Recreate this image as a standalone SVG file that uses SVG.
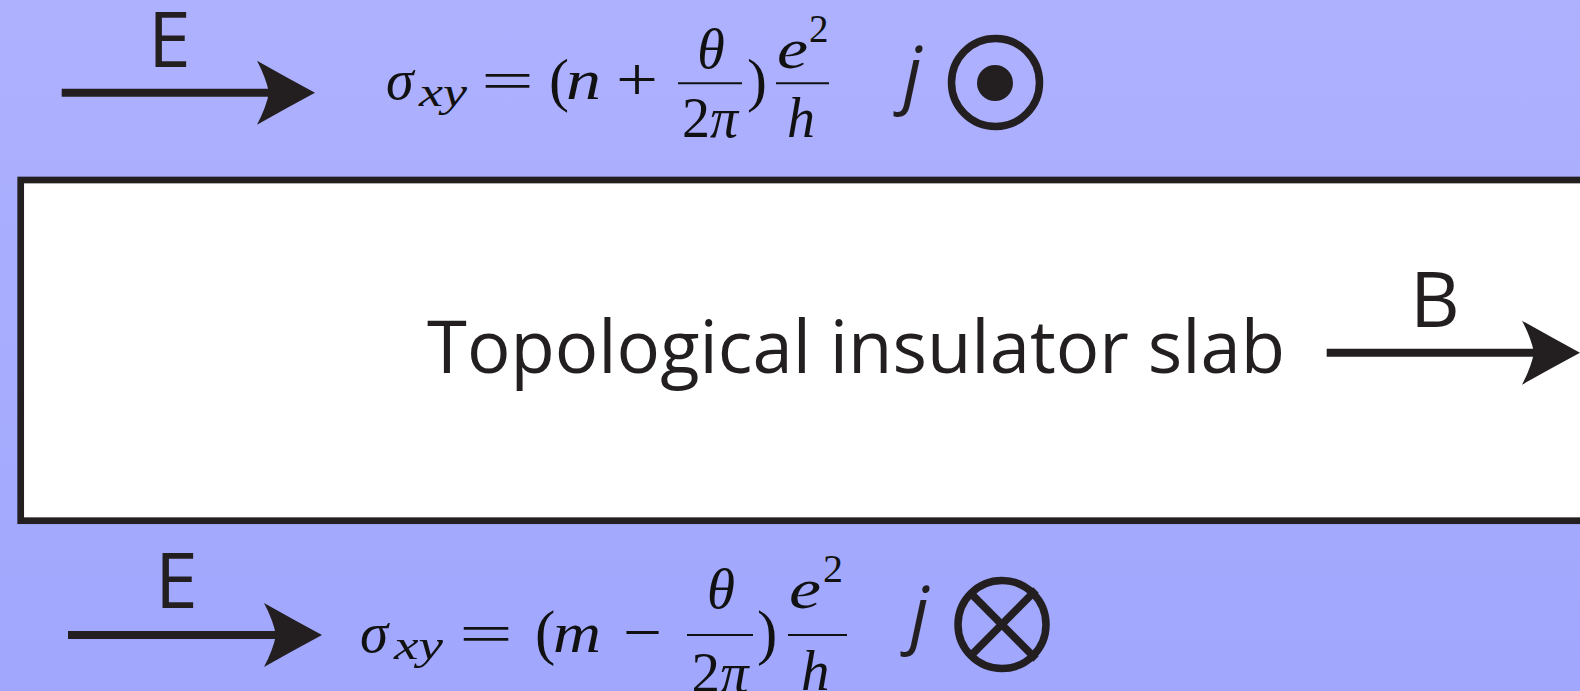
<svg xmlns="http://www.w3.org/2000/svg" width="1580" height="691" viewBox="0 0 1580 691">
  <defs>
    <linearGradient id="bg" x1="0" y1="0" x2="0" y2="1">
      <stop offset="0" stop-color="#aeb1fe"/>
      <stop offset="1" stop-color="#a0a7fd"/>
    </linearGradient>
    <marker id="head" markerUnits="userSpaceOnUse" viewBox="-15 -34 63 68" markerWidth="63" markerHeight="68" refX="0" refY="0" orient="auto" overflow="visible">
      <path d="M46,0 Q18,-15 -12,-32 Q-3,-15 0,0 Q-3,15 -12,32 Q18,15 46,0 Z" fill="#231f20"/>
    </marker>
    <style>
      .lbl { font-family: "Open Sans", "Liberation Sans", sans-serif; fill: #231f20; }
      .mi { font-family: "Liberation Serif", "DejaVu Serif", serif; font-style: italic; fill: #111; }
      .mr { font-family: "Liberation Serif", "DejaVu Serif", serif; font-style: normal; fill: #111; }
      .arrow { stroke: #231f20; stroke-width: 8; fill: none; marker-end: url(#head); }
      .rule { stroke: #111; stroke-width: 2; }
      .sym { stroke: #231f20; fill: none; stroke-width: 7.5; }
    </style>
  </defs>

  <rect x="0" y="0" width="1580" height="691" fill="url(#bg)"/>

  <g id="slab">
    <rect x="20.7" y="180" width="1575" height="340.7" fill="#ffffff" stroke="#231f20" stroke-width="6.7"/>
    <text class="lbl" x="427" y="373" font-size="74" textLength="858" lengthAdjust="spacingAndGlyphs">Topological insulator slab</text>
  </g>

  <g id="connectors">
    <line class="arrow" x1="61.7" y1="92.7" x2="269" y2="92.7"/>
    <line class="arrow" x1="68" y1="635" x2="276" y2="635"/>
    <line class="arrow" x1="1326.7" y1="352.7" x2="1534" y2="352.7"/>
  </g>

  <g id="label-E-top">
    <text class="lbl" x="148" y="66.7" font-size="77">E</text>
  </g>
  <g id="label-E-bottom">
    <text class="lbl" x="155" y="608" font-size="77">E</text>
  </g>
  <g id="label-B">
    <text class="lbl" x="1410" y="326.7" font-size="77">B</text>
  </g>

  <g id="formula-top">
    <text class="mi" x="386" y="99" font-size="56">σ</text>
    <text class="mi" x="419" y="106" font-size="42" textLength="48" lengthAdjust="spacingAndGlyphs">xy</text>
    <text class="mr" x="481" y="99" font-size="54" textLength="53" lengthAdjust="spacingAndGlyphs">=</text>
    <text class="mr" x="549" y="100" font-size="60">(</text>
    <text class="mi" x="566" y="99" font-size="56" textLength="35" lengthAdjust="spacingAndGlyphs">n</text>
    <text class="mr" x="616" y="100" font-size="62" textLength="42" lengthAdjust="spacingAndGlyphs">+</text>
    <line class="rule" x1="678" y1="83.3" x2="742" y2="83.3"/>
    <text class="mi" x="711" y="68" font-size="56" text-anchor="middle">θ</text>
    <text class="mr" x="710" y="137" font-size="56" text-anchor="middle">2<tspan class="mi">π</tspan></text>
    <text class="mr" x="747" y="100" font-size="60">)</text>
    <line class="rule" x1="776" y1="83.3" x2="829" y2="83.3"/>
    <text class="mi" x="777" y="68" font-size="56" textLength="31" lengthAdjust="spacingAndGlyphs">e</text>
    <text class="mr" x="809" y="42" font-size="39">2</text>
    <text class="mi" x="787" y="137" font-size="56">h</text>
  </g>

  <g id="formula-bottom">
    <text class="mi" x="360" y="652" font-size="57">σ</text>
    <text class="mi" x="394" y="659" font-size="43" textLength="49" lengthAdjust="spacingAndGlyphs">xy</text>
    <text class="mr" x="459" y="652" font-size="55" textLength="54" lengthAdjust="spacingAndGlyphs">=</text>
    <text class="mr" x="535" y="653" font-size="61">(</text>
    <text class="mi" x="553" y="652" font-size="57" textLength="48" lengthAdjust="spacingAndGlyphs">m</text>
    <text class="mr" x="623" y="653" font-size="62" textLength="39" lengthAdjust="spacingAndGlyphs">−</text>
    <line class="rule" x1="687" y1="635" x2="753" y2="635"/>
    <text class="mi" x="721" y="608" font-size="57" text-anchor="middle">θ</text>
    <text class="mr" x="720" y="692" font-size="57" text-anchor="middle">2<tspan class="mi">π</tspan></text>
    <text class="mr" x="757" y="653" font-size="61">)</text>
    <line class="rule" x1="788" y1="635" x2="847" y2="635"/>
    <text class="mi" x="789" y="608" font-size="57" textLength="32" lengthAdjust="spacingAndGlyphs">e</text>
    <text class="mr" x="823" y="582" font-size="40">2</text>
    <text class="mi" x="801" y="690" font-size="57">h</text>
  </g>

  <g id="current-out">
    <text class="lbl" x="903" y="99" font-size="74" font-style="italic">j</text>
    <circle class="sym" cx="995.5" cy="82.5" r="44"/>
    <circle cx="995" cy="83" r="18" fill="#231f20"/>
  </g>

  <g id="current-in">
    <text class="lbl" x="910" y="639" font-size="74" font-style="italic">j</text>
    <circle class="sym" cx="1002" cy="624.5" r="44" stroke-width="8"/>
    <line class="sym" x1="970.5" y1="656" x2="1036" y2="590" stroke-width="8"/>
    <line class="sym" x1="970.5" y1="593" x2="1036" y2="659" stroke-width="8"/>
  </g>
</svg>
